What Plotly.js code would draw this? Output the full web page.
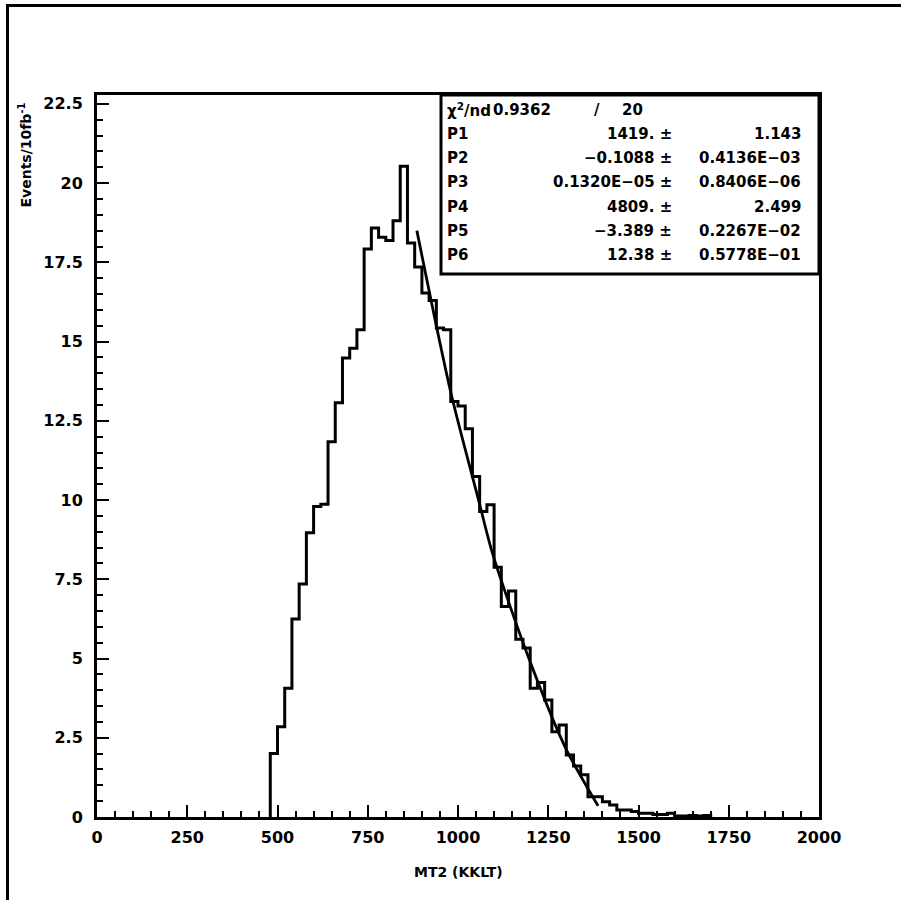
<!DOCTYPE html>
<html>
<head>
<meta charset="utf-8">
<script src="https://cdn.plot.ly/plotly-3.0.1.min.js"></script>
<style>
html,body{margin:0;padding:0;background:#fff;overflow:hidden;}
#wrap{position:relative;width:901px;height:900px;}
#frame{position:absolute;left:6px;top:4px;width:1000px;height:1000px;border-left:3px solid #000;border-top:3px solid #000;pointer-events:none;box-sizing:border-box;}
</style>
</head>
<body>
<div id="wrap">
<div id="chart" style="width:901px;height:900px;"></div>
<div id="frame"></div>
</div>
<script>
// Histogram: bins of width 20 starting at 480
const binStart = 480;
const binWidth = 20;
const counts = [
  2.0, 2.85, 4.06, 6.25, 7.35, 8.97, 9.80, 9.87, 11.84, 13.07,
  14.48, 14.79, 15.37, 17.92, 18.58, 18.29, 18.19, 18.81, 20.53, 18.11,
  17.35, 16.53, 16.30, 15.43, 15.37, 13.11, 12.97, 12.25, 10.74, 9.64,
  9.85, 7.88, 6.64, 7.13, 5.61, 5.33, 4.06, 4.24, 3.69, 2.69,
  2.90, 1.96, 1.61, 1.33, 0.64, 0.64, 0.48, 0.38, 0.22, 0.22,
  0.17, 0.12, 0.12, 0.08, 0.08, 0.12, 0.03, 0.03, 0.05, 0.03,
  0.05
];
// Fit curve
const fitX = [886, 980, 1057, 1096, 1198, 1297, 1388];
const fitY = [18.5, 13.4, 10.0, 8.3, 4.95, 2.2, 0.35];

// Stats box text
const statLabels = ["P1", "P2", "P3", "P4", "P5", "P6"];
const statValues = ["1419. \u00b1", "\u22120.1088 \u00b1", "0.1320E\u221205 \u00b1", "4809. \u00b1", "\u22123.389 \u00b1", "12.38 \u00b1"];
const statErrors = ["1.143", "0.4136E\u221203", "0.8406E\u221206", "2.499", "0.2267E\u221202", "0.5778E\u221201"];
const chiText = ["\u03c7<sup>2</sup>/nd", "0.9362", "/", "20"];

const xTitle = "MT2 (KKLT)";
const yTitle = "Events/10fb<sup>-1</sup>";

// build step line
const hx = [binStart], hy = [0];
counts.forEach((c, i) => { hx.push(binStart + i * binWidth); hy.push(c); });
hx.push(binStart + counts.length * binWidth); hy.push(0);

const W = 901, H = 900;
const L = 97, R = 819, T = 95, B = 817;
const px = x => (x - L) / (R - L);
const py = y => (B - y) / (B - T);

const font = {family: "DejaVu Sans", color: "#000", weight: "bold"};
const F = s => Object.assign({}, font, {size: s});

const traces = [
  {x: hx, y: hy, type: "scatter", mode: "lines", line: {shape: "hv", color: "#000", width: 3}, hoverinfo: "skip"},
  {x: fitX, y: fitY, type: "scatter", mode: "lines", line: {shape: "spline", smoothing: 0.8, color: "#000", width: 2.8}, hoverinfo: "skip"}
];

const ann = [];
const rowsY = [110, 134.3, 158.3, 182.3, 206.7, 231, 255];
ann.push({xref: "paper", yref: "paper", x: px(445), y: py(rowsY[0]), xanchor: "left", yanchor: "middle", text: chiText[0], showarrow: false, font: F(15)});
ann.push({xref: "paper", yref: "paper", x: px(491), y: py(rowsY[0]), xanchor: "left", yanchor: "middle", text: chiText[1], showarrow: false, font: F(15)});
ann.push({xref: "paper", yref: "paper", x: px(597), y: py(rowsY[0]), xanchor: "center", yanchor: "middle", text: chiText[2], showarrow: false, font: F(15)});
ann.push({xref: "paper", yref: "paper", x: px(645), y: py(rowsY[0]), xanchor: "right", yanchor: "middle", text: chiText[3], showarrow: false, font: F(15)});
statLabels.forEach((lab, i) => {
  const yy = py(rowsY[i + 1]);
  ann.push({xref: "paper", yref: "paper", x: px(445), y: yy, xanchor: "left", yanchor: "middle", text: lab, showarrow: false, font: F(15)});
  ann.push({xref: "paper", yref: "paper", x: px(674), y: yy, xanchor: "right", yanchor: "middle", text: statValues[i], showarrow: false, font: F(15)});
  ann.push({xref: "paper", yref: "paper", x: px(803), y: yy, xanchor: "right", yanchor: "middle", text: statErrors[i], showarrow: false, font: F(15)});
});
ann.push({xref: "paper", yref: "paper", x: px(458), y: py(872), xanchor: "center", yanchor: "middle", text: xTitle, showarrow: false, font: F(14)});
ann.push({xref: "paper", yref: "paper", x: px(25), y: py(101), xanchor: "center", yanchor: "top", text: yTitle, textangle: -90, showarrow: false, font: F(14)});

const layout = {
  width: W, height: H,
  margin: {l: L, r: W - R, t: T, b: H - B, pad: 0},
  paper_bgcolor: "#fff", plot_bgcolor: "#fff",
  showlegend: false,
  xaxis: {
    range: [0, 2000], showgrid: false, zeroline: false,
    showline: true, linewidth: 3, linecolor: "#000", mirror: true,
    ticks: "inside", tick0: 0, dtick: 250, ticklen: 12, tickwidth: 2, tickcolor: "#000",
    minor: {ticks: "inside", dtick: 50, ticklen: 6, tickwidth: 2, tickcolor: "#000"},
    tickfont: F(16), ticklabelstandoff: 4
  },
  yaxis: {
    range: [0, 22.78], showgrid: false, zeroline: false,
    showline: true, linewidth: 3, linecolor: "#000", mirror: true,
    ticks: "inside", tick0: 0, dtick: 2.5, ticklen: 12, tickwidth: 2, tickcolor: "#000",
    minor: {ticks: "inside", dtick: 0.5, ticklen: 6, tickwidth: 2, tickcolor: "#000"},
    tickfont: F(16), ticklabelstandoff: 8
  },
  shapes: [
    {type: "rect", xref: "paper", yref: "paper", x0: px(441), x1: px(819), y0: py(274), y1: py(95), line: {color: "#000", width: 3}, fillcolor: "rgba(0,0,0,0)"}
  ],
  annotations: ann
};

Plotly.newPlot("chart", traces, layout, {staticPlot: true, displayModeBar: false});
</script>
</body>
</html>
